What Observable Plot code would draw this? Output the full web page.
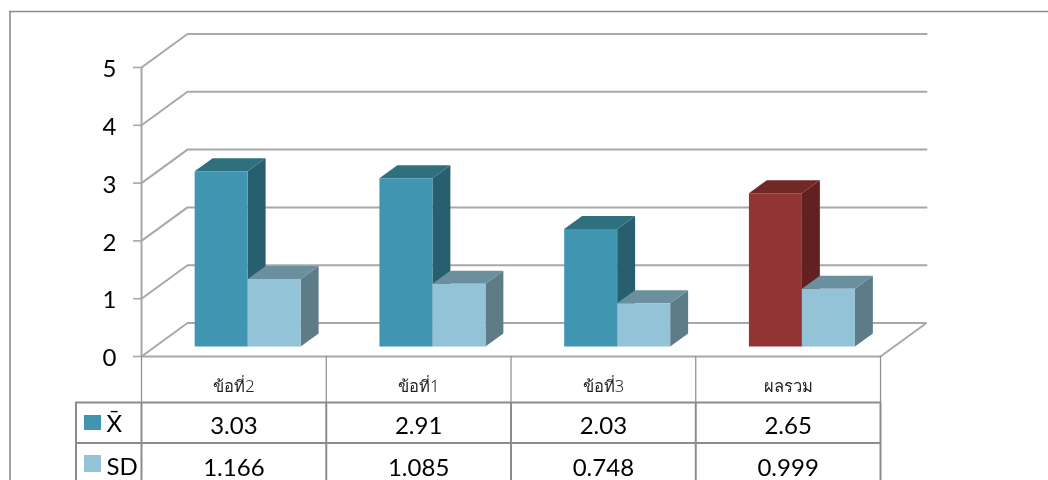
<!DOCTYPE html>
<html>
<head>
<meta charset="utf-8">
<script src="https://cdn.jsdelivr.net/npm/d3@7"></script>
<script src="https://cdn.jsdelivr.net/npm/@observablehq/plot@0.6"></script>
<style>
html,body{margin:0;padding:0;background:#fff;overflow:hidden}
svg{display:block;filter:blur(0.45px)}
</style>
</head>
<body>
<div id="chart"></div>
<script>
// ---- chart values
const categories = ["ข้อที่2", "ข้อที่1", "ข้อที่3", "ผลรวม"];
const meanValues = [3.03, 2.91, 2.03, 2.65];
const sdValues = [1.166, 1.085, 0.748, 0.999];
const meanLabels = ["3.03", "2.91", "2.03", "2.65"];
const sdLabels = ["1.166", "1.085", "0.748", "0.999"];
const seriesNames = ["X̄", "SD"];
const yTicks = [0, 1, 2, 3, 4, 5];

// ---- styles
const tealFaces = {front: "#4095b1", side: "#275f6e", top: "#2f707f"};
const paleFaces = {front: "#93c3d6", side: "#5d7c88", top: "#6a909f"};
const redFaces = {front: "#923432", side: "#622120", top: "#722826"};
const lineGrey = "#a8a8a8", tableGrey = "#8c8c8c";
const numFont = "Lato, 'Open Sans', sans-serif";

// ---- layout: x is measured in category slots, y in value units
const W = 1048, H = 480;
const slotPx = 184.75, unitPx = 57.8, originX = 141, originY = 356;
const depthX = 46 / slotPx, depthY = 33.5 / unitPx;   // oblique depth vector
const barDepth0 = 0.3, barDepth1 = 0.69, barWidth = 53 / slotPx;
const px = v => (v - originX) / slotPx, py = v => (originY - v) / unitPx;
const project = (slot, value, d) => ({x: slot + d * depthX, y: value + d * depthY});

// ---- bar faces
function faces(slot, left, value, c, id) {
  const right = left + barWidth, f = [];
  const poly = (name, pts) => pts.forEach(p => f.push({...project(p[0], p[1], p[2]), id: id + name, color: c[name]}));
  poly("side", [[right, 0, barDepth0], [right, 0, barDepth1], [right, value, barDepth1], [right, value, barDepth0]]);
  poly("top", [[left, value, barDepth0], [right, value, barDepth0], [right, value, barDepth1], [left, value, barDepth1]]);
  poly("front", [[left, 0, barDepth0], [right, 0, barDepth0], [right, value, barDepth0], [left, value, barDepth0]]);
  return f;
}
const barPts = categories.flatMap((_, i) => {
  const mid = i + 0.5;
  return [
    ...faces(i, mid - barWidth, meanValues[i], i === 3 ? redFaces : tealFaces, `m${i}`),
    ...faces(i, mid, sdValues[i], paleFaces, `s${i}`)
  ];
});

// ---- gridlines in the oblique box
const n = categories.length;
const gridPts = yTicks.flatMap(v => {
  const a = [project(0, v, 0), project(0, v, 1), project(n, v, 1)];
  if (v === 0) a.push(project(n, v, 0), project(0, v, 0));
  return a.map(p => ({...p, id: v}));
});

// ---- data table rows (pixel rows mapped through the y scale)
const rowTop = [356, 402, 442.5];
const colEdges = d3.range(n + 1);
const rowLabel = py(386.5), rowMean = py(425.5), rowSd = py(467.5);

const chart = Plot.plot({
  width: W, height: H,
  marginTop: 0, marginRight: 0, marginBottom: 0, marginLeft: 0,
  x: {domain: [px(0), px(W)], range: [0, W], axis: null},
  y: {domain: [py(H), py(0)], range: [H, 0], axis: null},
  color: {type: "identity"},
  style: {background: "#fff", fontFamily: numFont},
  marks: [
    // outer frame
    Plot.ruleY([py(11)], {x1: px(9), x2: px(W), stroke: tableGrey, strokeWidth: 1.6}),
    Plot.ruleX([px(9.5)], {y1: py(11), y2: py(H), stroke: tableGrey, strokeWidth: 1.6}),
    // grid
    Plot.line(gridPts, {x: "x", y: "y", z: "id", stroke: lineGrey, strokeWidth: 2, strokeLinejoin: "miter"}),
    Plot.ruleX([0], {y1: 0, y2: 5, stroke: lineGrey, strokeWidth: 2}),
    Plot.ruleY(yTicks, {x1: px(133), x2: 0, stroke: lineGrey, strokeWidth: 1.6}),
    Plot.text(yTicks, {x: px(116), y: d => d, dy: 2, text: d => String(d), textAnchor: "end", fontSize: 24, fill: "#000"}),
    // bars
    Plot.line(barPts, {x: "x", y: "y", z: "id", fill: "color", stroke: "none", curve: "linear-closed"}),
    // table grid
    Plot.ruleX(colEdges, {y1: py(rowTop[0]), y2: py(rowTop[1]), stroke: tableGrey, strokeWidth: 1.2}),
    Plot.ruleX(colEdges, {y1: py(rowTop[1]), y2: py(H), stroke: tableGrey, strokeWidth: 2}),
    Plot.ruleX([px(75.5)], {y1: py(rowTop[1]), y2: py(H), stroke: tableGrey, strokeWidth: 2}),
    Plot.ruleY([py(rowTop[1]), py(rowTop[2])], {x1: px(75), x2: n, stroke: tableGrey, strokeWidth: 2}),
    // table text
    Plot.text(categories, {x: (_, i) => i + 0.5, y: rowLabel, text: d => d, fontSize: 16.5, fontWeight: 300, fill: "#222", fontFamily: "'Noto Sans', 'DejaVu Sans', sans-serif"}),
    Plot.text(meanLabels, {x: (_, i) => i + 0.5, y: rowMean, text: d => d, fontSize: 24, fill: "#000"}),
    Plot.text(sdLabels, {x: (_, i) => i + 0.5, y: rowSd, text: d => d, fontSize: 24, fill: "#000"}),
    // legend keys
    Plot.rect([tealFaces.front], {x1: px(84), x2: px(101), y1: py(430), y2: py(415), fill: d => d}),
    Plot.rect([paleFaces.front], {x1: px(84), x2: px(101), y1: py(472), y2: py(455), fill: d => d}),
    Plot.text([seriesNames[0]], {x: px(106), y: py(424), text: d => d, textAnchor: "start", fontSize: 24, fill: "#000"}),
    Plot.text([seriesNames[1]], {x: px(106), y: py(467), text: d => d, textAnchor: "start", fontSize: 24, fill: "#000"})
  ]
});
document.getElementById("chart").append(chart);
</script>
</body>
</html>
